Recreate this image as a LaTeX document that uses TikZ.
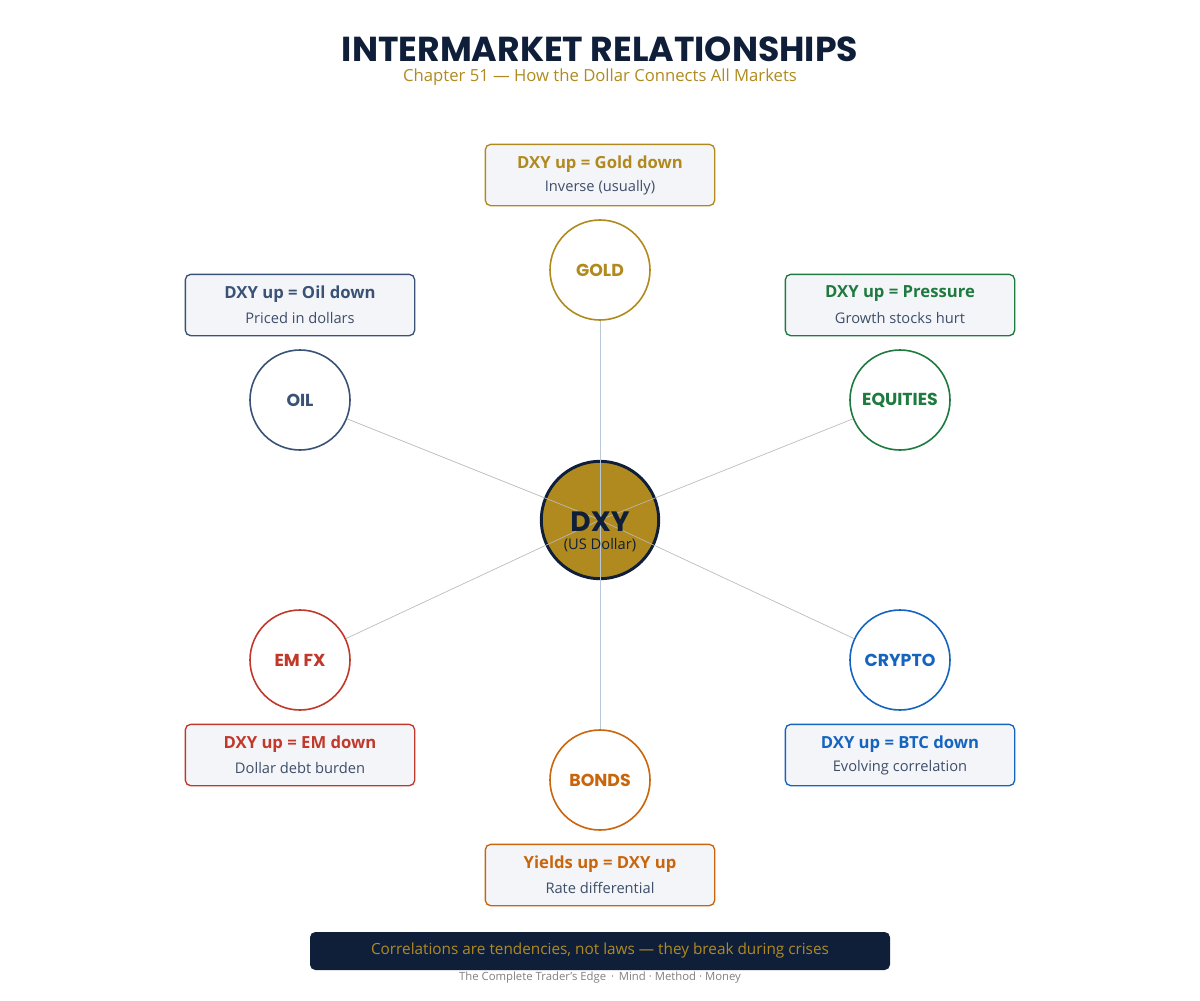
\documentclass[tikz,border=0pt]{standalone}
\usepackage{fontspec}
\setmainfont{Open Sans}
\newfontfamily\pop{Poppins}
\definecolor{navy}{HTML}{0F1F3A}
\definecolor{gold}{HTML}{B08A1E}
\definecolor{oilc}{HTML}{3A5275}
\definecolor{eqc}{HTML}{1E7A3E}
\definecolor{emc}{HTML}{C0392B}
\definecolor{crc}{HTML}{1565C0}
\definecolor{boc}{HTML}{C9650A}
\definecolor{boxbg}{HTML}{F4F5F9}
\definecolor{sub}{HTML}{3E4E68}
\definecolor{vline}{HTML}{B8C8D8}
\tikzset{
 sat/.style={circle,draw=#1,line width=1.2pt,fill=white,minimum size=75pt,inner sep=0pt,text=#1,font=\pop\bfseries\fontsize{13}{15}\selectfont},
 info/.style={rounded corners=4pt,draw=#1,line width=1pt,fill=boxbg,minimum width=172pt,minimum height=46pt},
}
\begin{document}
\begin{tikzpicture}[x=0.75pt,y=-0.75pt]
\useasboundingbox (0,0) rectangle (1200,1000);
\node[font=\pop\bfseries\fontsize{26}{28}\selectfont,text=navy] (title) at (600,49) {INTERMARKET RELATIONSHIPS};
\node[font=\fontsize{12.5}{14}\selectfont,text=gold] (subt) at (600,77) {Chapter 51 — How the Dollar Connects All Markets};
\node[circle,draw=navy,line width=2.2pt,fill=gold,minimum size=88pt,inner sep=0pt] (dxy) at (600,520) {};
\node[sat=gold] (gold) at (600,270) {GOLD};
\node[sat=oilc] (oil) at (300,400) {OIL};
\node[sat=eqc] (eq) at (900,400) {EQUITIES};
\node[sat=emc] (em) at (300,660) {EM FX};
\node[sat=crc] (cr) at (900,660) {CRYPTO};
\node[sat=boc] (bo) at (600,780) {BONDS};
\foreach \n/\c in {gold/vline,oil/gray!55,eq/gray!55,em/gray!55,cr/gray!55,bo/vline}
  \draw[draw=\c,line width=0.5pt] (dxy.center) -- (\n);
\node[text=navy,font=\pop\bfseries\fontsize{21}{22}\selectfont] (dxyt) at (600,522) {DXY};
\node[text=navy,font=\fontsize{11}{12}\selectfont] (dxys) at (600,545) {(US Dollar)};
\foreach \n/\x/\y/\c/\a/\b in {
 gb/600/175/gold/{DXY up = Gold down}/{Inverse (usually)},
 ob/300/305/oilc/{DXY up = Oil down}/{Priced in dollars},
 eb/900/305/eqc/{DXY up = Pressure}/{Growth stocks hurt},
 mb/300/755/emc/{DXY up = EM down}/{Dollar debt burden},
 cb/900/755/crc/{DXY up = BTC down}/{Evolving correlation},
 bb/600/875/boc/{Yields up = DXY up}/{Rate differential}}{
 \node[info=\c] (\n) at (\x,\y) {};
 \node[text=\c,font=\bfseries\fontsize{12.5}{14}\selectfont] (\n a) at (\x,\y-11) {\a};
 \node[text=sub,font=\fontsize{11}{13}\selectfont] (\n b) at (\x,\y+13) {\b};
}
\node[rounded corners=4pt,fill=navy,minimum width=435pt,minimum height=28.5pt,text=gold,font=\fontsize{11.5}{13}\selectfont] (ban) at (600,951) {Correlations are tendencies, not laws — they break during crises};
\node[text=gray,font=\fontsize{8.5}{10}\selectfont] (foot) at (600,978) {The Complete Trader's Edge \,·\, Mind · Method · Money};
\end{tikzpicture}
\end{document}
